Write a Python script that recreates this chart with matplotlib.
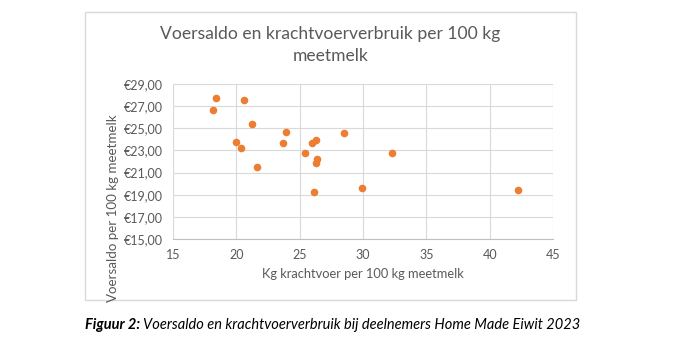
import matplotlib
matplotlib.use("Agg")
import matplotlib.pyplot as plt
from matplotlib.patches import Rectangle

krachtvoer = [18.4, 18.15, 20.6, 21.2, 20.0, 20.4, 21.6, 23.9, 23.65, 25.4,
              26.0, 26.3, 26.4, 26.3, 26.1, 28.5, 32.3, 29.9, 42.2]
voersaldo = [27.74, 26.66, 27.56, 25.39, 23.77, 23.22, 21.51, 24.67, 23.67, 22.77,
             23.67, 23.95, 22.26, 21.87, 19.25, 24.58, 22.77, 19.61, 19.43]
x_ticks = [15, 20, 25, 30, 35, 40, 45]
y_ticks = [15, 17, 19, 21, 23, 25, 27, 29]

title = "Voersaldo en krachtvoerverbruik per 100 kg\nmeetmelk"
xlabel = "Kg krachtvoer per 100 kg meetmelk"
ylabel = "Voersaldo per 100 kg meetmelk"
caption_bold = "Figuur 2:"
caption_rest = "Voersaldo en krachtvoerverbruik bij deelnemers Home Made Eiwit 2023"

FONT = ["Lato", "DejaVu Sans"]
TXT = "#595959"
W, H = 692, 357

fig = plt.figure(figsize=(W / 100, H / 100), dpi=100)
fig.patch.set_facecolor("white")

# chart border
fig.patches.append(Rectangle((85 / W, 1 - 300 / H), (576 - 85) / W, (300 - 12) / H,
                             transform=fig.transFigure, fill=False,
                             edgecolor="#d9d9d9", linewidth=1))

ax = fig.add_axes([173 / W, 1 - 239 / H, (553 - 173) / W, (239 - 84) / H])
ax.scatter(krachtvoer, voersaldo, s=30, color="#ED7D31", zorder=3, linewidths=0)
ax.set_xlim(15, 45)
ax.set_ylim(15, 29)
ax.set_xticks(x_ticks)
ax.set_yticks(y_ticks)
ax.set_xticklabels([str(t) for t in x_ticks], fontfamily=FONT, fontsize=9, color=TXT)
ax.set_yticklabels([f"€{t:.2f}".replace(".", ",") for t in y_ticks],
                   fontfamily=FONT, fontsize=9, color=TXT)
ax.tick_params(length=0, pad=7)
ax.grid(True, color="#d9d9d9", linewidth=0.8)
ax.set_axisbelow(True)
for s in ["top", "right", "left"]:
    ax.spines[s].set_visible(False)
ax.spines["bottom"].set_color("#bfbfbf")
ax.spines["bottom"].set_linewidth(0.8)
ax.set_facecolor("none")

fig.text(330.5 / W, 1 - 45 / H, title, ha="center", va="center", fontfamily=FONT,
         fontsize=12.6, color=TXT, linespacing=1.45)
fig.text(363 / W, 1 - 274 / H, xlabel, ha="center", va="center", fontfamily=FONT,
         fontsize=9.3, color=TXT)
fig.text(113 / W, 1 - 208 / H, ylabel, ha="center", va="center", rotation=90,
         fontfamily=FONT, fontsize=9.6, color=TXT)

t1 = fig.text(85 / W, 1 - 325 / H, caption_bold, ha="left", va="center", fontfamily=FONT,
              fontsize=10.5, fontweight="bold", fontstyle="italic", color="black")
fig.canvas.draw()
ext = t1.get_window_extent()
fig.text((ext.x1 + 3) / W, 1 - 325 / H, caption_rest,
         ha="left", va="center", fontfamily=FONT, fontsize=10.5, fontstyle="italic",
         color="black")

fig.savefig("out.png", dpi=100)
